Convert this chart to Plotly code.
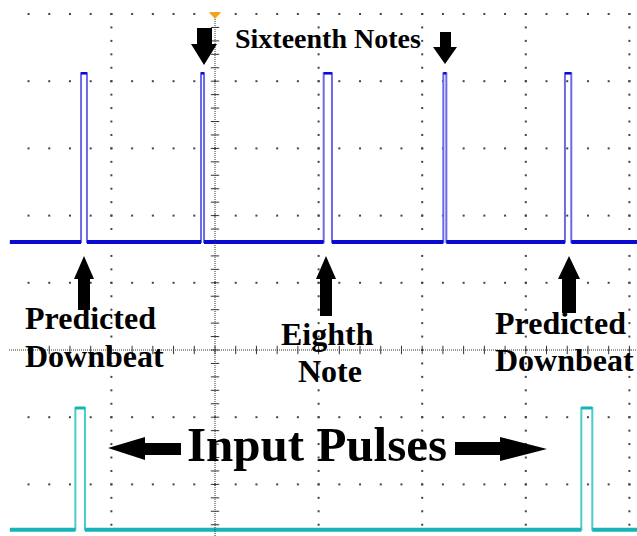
import plotly.graph_objects as go

W, H = 637, 536
X0, XDIV = 215.0, 103.6   # screen centre (px) and px per horizontal division
Y0, YDIV = 350.0, 67.2    # screen centre (px) and px per vertical division

# ---- data, in screen divisions ----
blue_rise = [-1.293, -0.135, 1.049, 2.204, 3.378]
blue_fall = [-1.236, -0.106, 1.129, 2.233, 3.439]
blue_low, blue_high = 1.607, 4.118
cyan_rise = [-1.348, 3.536]
cyan_fall = [-1.255, 3.642]
cyan_low, cyan_high = -2.674, -0.863
t_start, t_end = -1.98, 4.08

labels_sixteenth = "Sixteenth Notes"
label_predicted = "Predicted"
label_downbeat = "Downbeat"
label_eighth = "Eighth"
label_note = "Note"
label_input = "Input Pulses"


def dx(p):
    return (p - X0) / XDIV


def dy(p):
    return (Y0 - p) / YDIV


def steps(rise, fall, lo, hi):
    xs, ys = [t_start], [lo]
    for r, f in zip(rise, fall):
        xs += [r, r, f, f]
        ys += [lo, hi, hi, lo]
    xs.append(t_end)
    ys.append(lo)
    return xs, ys


def base_segments(rise, fall, lo):
    xs, ys = [], []
    starts = [t_start] + list(fall)
    ends = list(rise) + [t_end]
    for a, b in zip(starts, ends):
        xs += [a, b, None]
        ys += [lo, lo, None]
    return xs, ys


def top_segments(rise, fall, hi):
    xs, ys = [], []
    for r, f in zip(rise, fall):
        xs += [r, f, None]
        ys += [hi, hi, None]
    return xs, ys


fig = go.Figure()

# ---- graticule ----
xmin_d, xmax_d = dx(9), dx(W)
ymin_d, ymax_d = dy(H), dy(14)
gx, gy = [], []
for k in range(-12, 25):
    xv = k / 5
    if xv < xmin_d or xv > xmax_d:
        continue
    for j in range(-2, 6):
        if j == 0:
            continue
        gx.append(xv)
        gy.append(j)
for i in range(-1, 5):
    if i == 0:
        continue
    for m in range(-15, 27):
        yv = m / 5
        if yv < ymin_d or yv > ymax_d:
            continue
        gx.append(i)
        gy.append(yv)
fig.add_trace(go.Scatter(x=gx, y=gy, mode="markers", hoverinfo="skip",
                         marker=dict(symbol="square", size=2, color="#444444", line=dict(width=0))))

# centre crosshair
fig.add_shape(type="line", x0=xmin_d, x1=xmax_d, y0=0, y1=0,
              line=dict(color="#333333", width=1, dash="1px,1px"))
fig.add_shape(type="line", x0=0, x1=0, y0=ymin_d, y1=ymax_d,
              line=dict(color="#333333", width=1, dash="1px,1px"))
tx = [k / 5 for k in range(-12, 25) if xmin_d <= k / 5 <= xmax_d]
fig.add_trace(go.Scatter(x=tx, y=[0] * len(tx), mode="markers", hoverinfo="skip",
                         marker=dict(symbol="line-ns", size=6, line=dict(width=1, color="#333333"))))
ty = [m / 5 for m in range(-15, 27) if ymin_d <= m / 5 <= ymax_d]
fig.add_trace(go.Scatter(x=[0] * len(ty), y=ty, mode="markers", hoverinfo="skip",
                         marker=dict(symbol="line-ew", size=6, line=dict(width=1, color="#333333"))))

# ---- traces ----
bx, by = steps(blue_rise, blue_fall, blue_low, blue_high)
fig.add_trace(go.Scatter(x=bx, y=by, mode="lines", line=dict(color="#6a6ae8", width=2), hoverinfo="skip"))
sx, sy = base_segments(blue_rise, blue_fall, blue_low)
fig.add_trace(go.Scatter(x=sx, y=sy, mode="lines", line=dict(color="#0a0ad2", width=4), hoverinfo="skip"))
sx, sy = top_segments(blue_rise, blue_fall, blue_high)
fig.add_trace(go.Scatter(x=sx, y=sy, mode="lines", line=dict(color="#0a0ad2", width=2.5), hoverinfo="skip"))

cx, cy = steps(cyan_rise, cyan_fall, cyan_low, cyan_high)
fig.add_trace(go.Scatter(x=cx, y=cy, mode="lines", line=dict(color="#48cccc", width=2), hoverinfo="skip"))
sx, sy = base_segments(cyan_rise, cyan_fall, cyan_low)
fig.add_trace(go.Scatter(x=sx, y=sy, mode="lines", line=dict(color="#17b3b8", width=4), hoverinfo="skip"))
sx, sy = top_segments(cyan_rise, cyan_fall, cyan_high)
fig.add_trace(go.Scatter(x=sx, y=sy, mode="lines", line=dict(color="#17b3b8", width=3), hoverinfo="skip"))


# ---- arrows & marker ----
def poly(points, color="black"):
    path = "M " + " L ".join(f"{dx(px):.4f},{dy(py):.4f}" for px, py in points) + " Z"
    fig.add_shape(type="path", path=path, fillcolor=color, line=dict(width=0), layer="above")


poly([(209, 12), (221, 12), (215, 19)], "#f7a21b")
poly([(197, 28), (212, 28), (212, 44), (217, 44), (204, 65), (191, 44), (197, 44)])
poly([(440, 32), (451, 32), (451, 47), (457, 47), (445, 64), (433, 47), (440, 47)])
for cxp, hw, sw, bot in [(84, 10, 6, 310), (326, 10, 6, 316), (569, 11, 7, 313)]:
    poly([(cxp, 256), (cxp + hw, 279), (cxp + sw, 279), (cxp + sw, bot),
          (cxp - sw, bot), (cxp - sw, 279), (cxp - hw, 279)])
poly([(108, 448), (145, 437), (145, 443), (181, 443), (181, 455), (145, 455), (145, 460)])
poly([(455, 442), (500, 442), (500, 437), (547, 449), (500, 461), (500, 455), (455, 455)])

# ---- text ----
FONT = "Liberation Serif, Times New Roman, serif"


def label(text, xp, yp, size, xanchor="left"):
    fig.add_annotation(x=dx(xp), y=dy(yp), text=f"<b>{text}</b>", showarrow=False,
                       xanchor=xanchor, yanchor="middle",
                       font=dict(family=FONT, size=size, color="black"))


label(labels_sixteenth, 233, 38, 28)
label(label_predicted, 23, 318, 32)
label(label_downbeat, 23, 356, 32)
label(label_eighth, 327, 334, 32, xanchor="center")
label(label_note, 330, 371, 32, xanchor="center")
label(label_predicted, 493, 323, 32)
label(label_downbeat, 493, 360, 32)
label(label_input, 185, 444, 49)

fig.update_layout(
    width=W, height=H, margin=dict(l=0, r=0, t=0, b=0),
    paper_bgcolor="white", plot_bgcolor="white", showlegend=False,
    xaxis=dict(range=[dx(0), dx(W)], visible=False, fixedrange=True),
    yaxis=dict(range=[dy(H), dy(0)], visible=False, fixedrange=True),
)
fig.write_html("out.html")
